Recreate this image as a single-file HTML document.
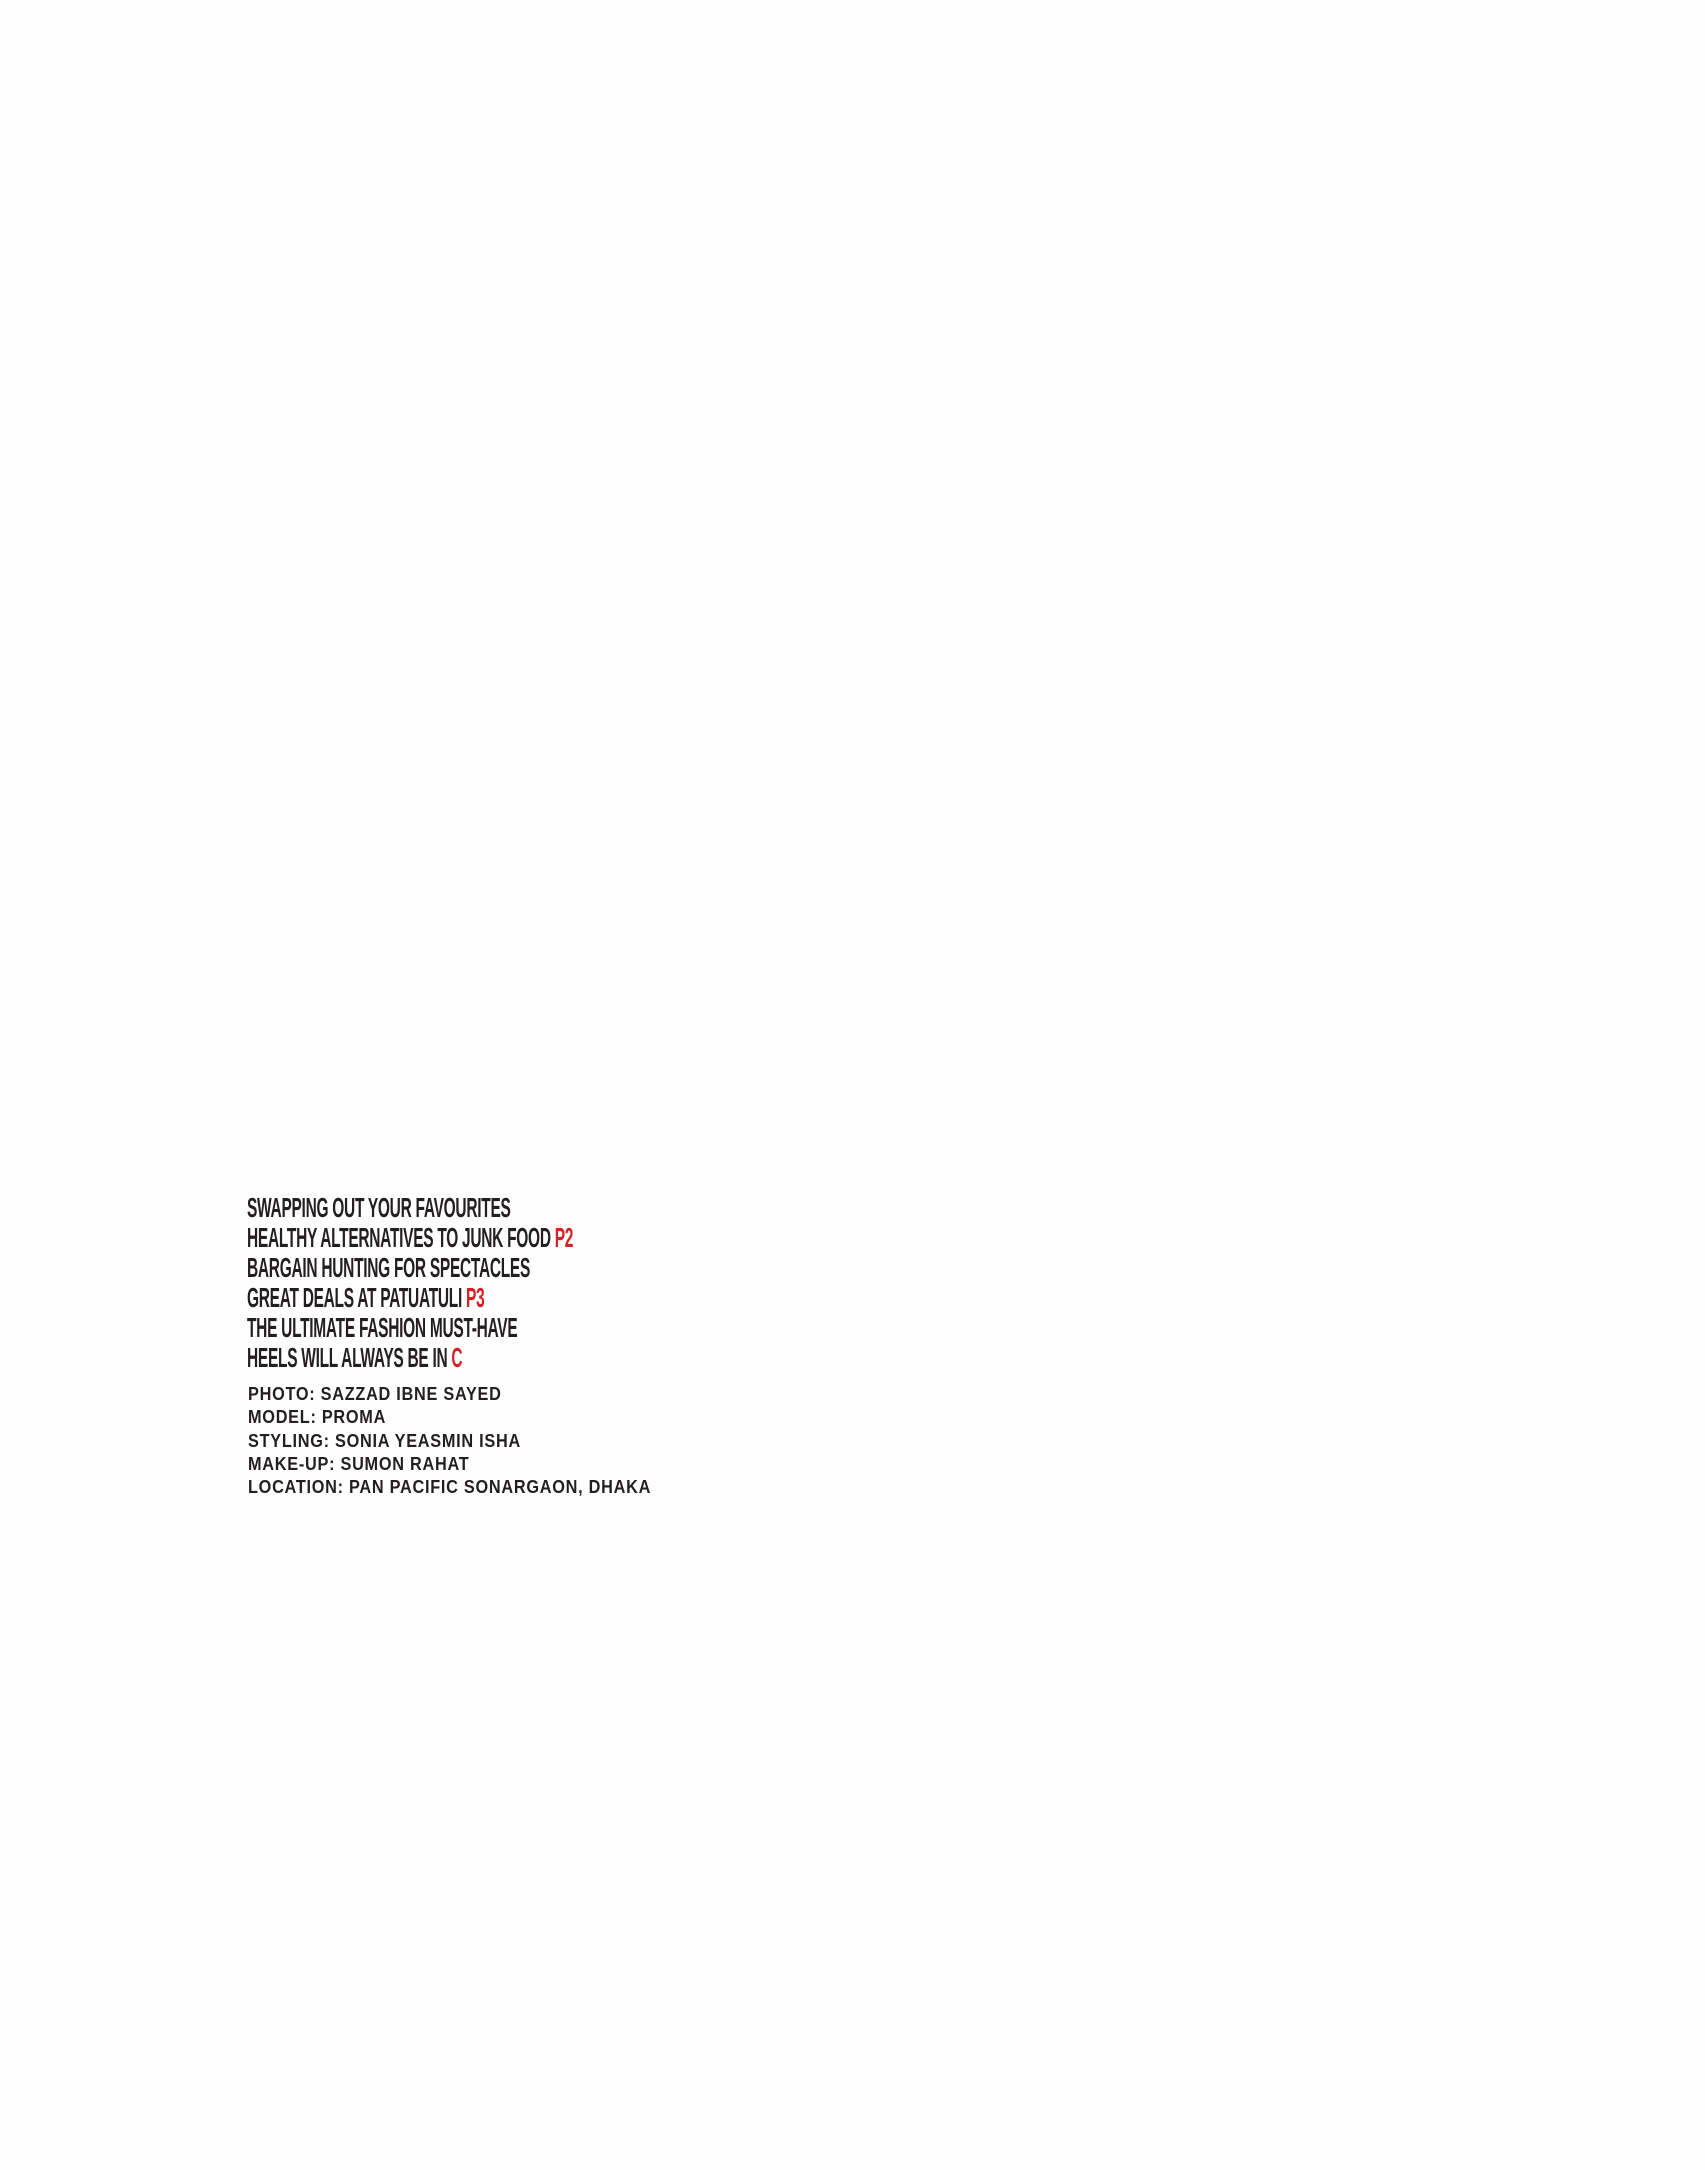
<!DOCTYPE html>
<html><head><meta charset="utf-8"><style>
html,body{margin:0;padding:0;background:#fefefe;}
body{width:1705px;height:2170px;position:relative;overflow:hidden;font-family:"Liberation Sans",sans-serif;color:#231f20;}
.h{position:absolute;left:247px;font-weight:bold;font-size:28px;line-height:28px;white-space:nowrap;transform:scaleX(0.553);transform-origin:0 0;letter-spacing:-0.5px;}
.r{color:#d71f26;}
.c{position:absolute;left:248px;font-weight:bold;font-size:18px;line-height:18px;white-space:nowrap;transform:scaleX(0.905);transform-origin:0 0;letter-spacing:0.8px;}
</style></head><body>
<div class="h" style="top:1194px">SWAPPING OUT YOUR FAVOURITES</div>
<div class="h" style="top:1224px">HEALTHY ALTERNATIVES TO JUNK FOOD <span class="r">P2</span></div>
<div class="h" style="top:1254px">BARGAIN HUNTING FOR SPECTACLES</div>
<div class="h" style="top:1284px">GREAT DEALS AT PATUATULI <span class="r">P3</span></div>
<div class="h" style="top:1314px">THE ULTIMATE FASHION MUST-HAVE</div>
<div class="h" style="top:1344px">HEELS WILL ALWAYS BE IN <span class="r">C</span></div>
<div class="c" style="top:1385px">PHOTO: SAZZAD IBNE SAYED</div>
<div class="c" style="top:1408px">MODEL: PROMA</div>
<div class="c" style="top:1432px">STYLING: SONIA YEASMIN ISHA</div>
<div class="c" style="top:1455px">MAKE-UP: SUMON RAHAT</div>
<div class="c" style="top:1478px">LOCATION: PAN PACIFIC SONARGAON, DHAKA</div>
</body></html>
